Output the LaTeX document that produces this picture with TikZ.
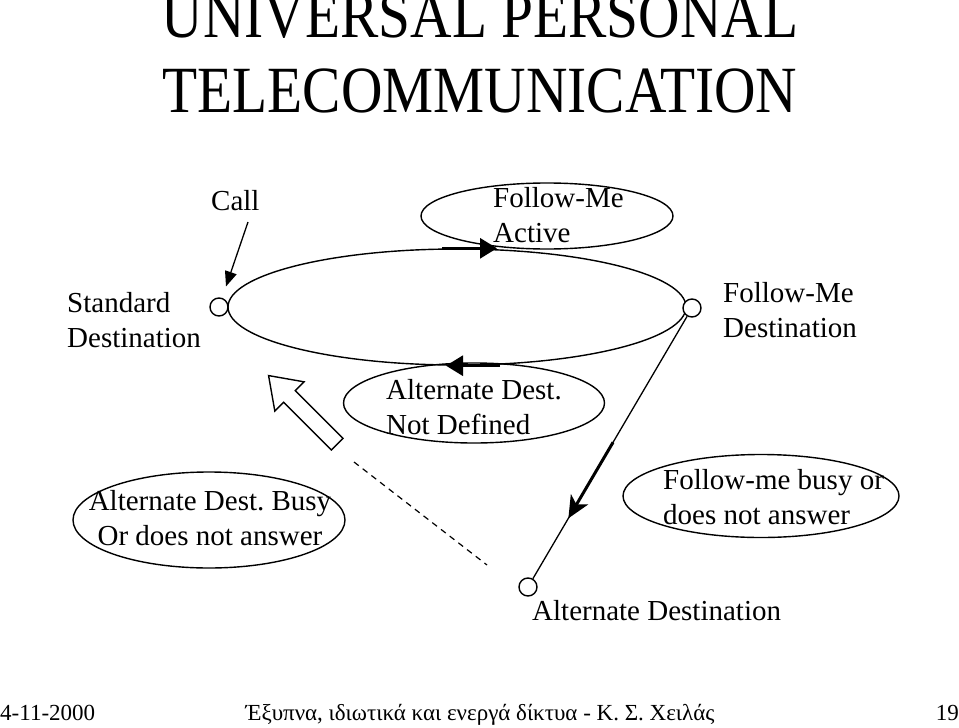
\documentclass[tikz,border=0pt]{standalone}
\usepackage{fontspec}
\setmainfont{Liberation Serif}
\newfontfamily\titlefont[FakeStretch=0.87]{Liberation Serif}
\usetikzlibrary{shapes.geometric,shapes.arrows,arrows.meta}
\frenchspacing
\begin{document}
\begin{tikzpicture}[x=1pt,y=-1pt,
  oval/.style={draw,ellipse,line width=1.4pt,inner sep=0pt},
  dot/.style={draw,circle,fill=white,line width=1.4pt,minimum size=18pt,inner sep=0pt},
  txt/.style={inner sep=0pt,font=\fontsize{29}{34.5}\selectfont,align=left,anchor=base west},
  flow/.style={line width=3pt,-{Triangle[length=17pt,width=20pt]}},
  foot/.style={inner sep=0pt,font=\fontsize{23}{23}\selectfont,anchor=base}]
  \useasboundingbox (0,0) rectangle (959,728);
  \node[inner sep=0pt,anchor=base,align=center,font=\titlefont\fontsize{66}{75}\selectfont]
    (title) at (480,112) {UNIVERSAL PERSONAL\\TELECOMMUNICATION};
  \node[oval,minimum width=458pt,minimum height=116pt] (loop) at (457,307) {};
  \node[oval,minimum width=252pt,minimum height=66pt] (fmact) at (547,216) {};
  \node[oval,minimum width=261pt,minimum height=80pt] (notdef) at (474,403) {};
  \node[oval,minimum width=272pt,minimum height=96pt] (altbusy) at (209,520) {};
  \node[oval,minimum width=276pt,minimum height=83pt] (fmbusy) at (761,496) {};
  \foreach \n/\p in {stdc/{219,307},fmc/{692,308},altc/{528,587}}
    \node[dot] (\n) at (\p) {};
  \draw[line width=1.3pt] (fmc) -- (altc);
  \path (fmc) -- (altc) coordinate[pos=0.48] (fa) coordinate[pos=0.77] (fb);
  \draw[line width=3pt,-{Stealth[length=22pt,width=20pt,inset=6pt]}] (fa) -- (fb);
  \draw[flow] ([xshift=-15pt]loop.north) -- ([xshift=40pt]loop.north);
  \draw[flow] ([xshift=43pt]loop.south) -- ([xshift=-11pt]loop.south);
  \node[txt] (call) at (211,210) {Call};
  \coordinate (callfrom) at (248,222);
  \draw[line width=1.3pt,shorten >=12pt,-{Triangle[length=15pt,width=12pt]}] (callfrom) -- (stdc);
  \node[draw,single arrow,line width=1.4pt,rotate=135,inner xsep=0pt,inner ysep=7.5pt,minimum height=97pt,
    single arrow head extend=12.5pt,single arrow tip angle=70] (back) at (307,414) {};
  \coordinate (dashA) at (354,462);
  \coordinate (dashB) at (487,565);
  \draw[dashed,line width=1.2pt,dash pattern=on 6pt off 5pt] (dashA) -- (dashB);
  \node[txt] (tfmact) at (493,242) {Follow-Me\\Active};
  \node[txt] (tnotdef) at (386,434) {Alternate Dest.\\Not Defined};
  \node[txt,align=center,anchor=base] (taltbusy) at (210,545) {Alternate Dest. Busy\\Or does not answer};
  \node[txt] (tfmbusy) at (663,524) {Follow-me busy or\\does not answer};
  \node[txt] (std) at (67,347) {Standard\\Destination};
  \node[txt] (fmdest) at (723,337) {Follow-Me\\Destination};
  \node[txt] (altdest) at (532,620) {Alternate Destination};
  \node[foot,anchor=base west] (date) at (0,720) {4-11-2000};
  \node[foot] (course) at (480,720) {Έξυπνα, ιδιωτικά και ενεργά δίκτυα - Κ. Σ. Χειλάς};
  \node[foot,anchor=base east] (page) at (959,720) {19};
\end{tikzpicture}
\end{document}
